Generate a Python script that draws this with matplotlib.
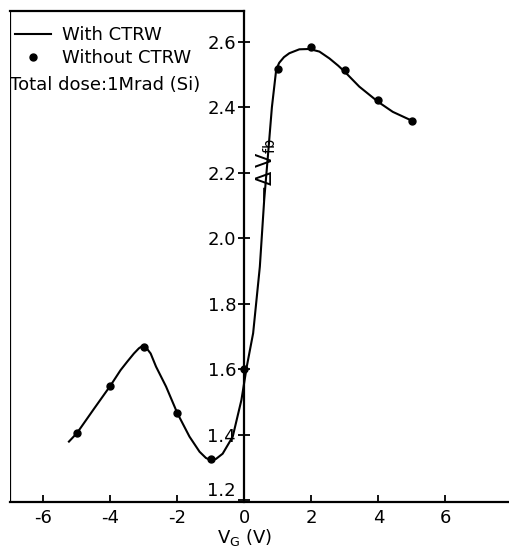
import matplotlib.pyplot as plt
import numpy as np

plt.rcParams['mathtext.default'] = 'regular'
plt.rcParams['axes.unicode_minus'] = False

# measured points (without CTRW)
vg_pts = [-5, -4, -3, -2, -1, 0, 1, 2, 3, 4, 5]
dvfb_pts = [1.406, 1.550, 1.669, 1.465, 1.325, 1.600, 2.516, 2.583, 2.514, 2.422, 2.359]

# curve (with CTRW)
vg_curve = [-5.24, -5.0, -4.5, -4.0, -3.7, -3.5, -3.3, -3.15, -3.05, -2.95, -2.8,
            -2.64, -2.34, -2.0, -1.64, -1.34, -1.15, -1.0, -0.85, -0.65, -0.35,
            -0.09, 0.07, 0.26, 0.46, 0.59, 0.7, 0.82, 0.95, 1.04, 1.18, 1.34,
            1.64, 1.94, 2.24, 2.54, 2.8, 3.0, 3.43, 4.0, 4.43, 5.0]
dvfb_curve = [1.379, 1.405, 1.478, 1.55, 1.597, 1.623, 1.648, 1.664, 1.671, 1.668, 1.648,
              1.608, 1.547, 1.465, 1.394, 1.348, 1.329, 1.322, 1.326, 1.342, 1.394,
              1.506, 1.608, 1.71, 1.913, 2.117, 2.25, 2.40, 2.516, 2.536, 2.553, 2.565,
              2.577, 2.578, 2.57, 2.549, 2.527, 2.508, 2.463, 2.416, 2.386, 2.359]

xticks = [-6, -4, -2, 0, 2, 4, 6]
yticks = [1.2, 1.4, 1.6, 1.8, 2.0, 2.2, 2.4, 2.6]

W, H = 509, 552
fig = plt.figure(figsize=(W / 100, H / 100), dpi=100)
ax = fig.add_axes([10 / W, 1 - 502 / H, 499 / W, 491 / H])

x0, x1 = -7.0, 7.9
y0, y1 = 1.1945, 2.694
ax.set_xlim(x0, x1)
ax.set_ylim(y0, y1)

ax.plot(vg_curve, dvfb_curve, color='black', lw=1.5, label='With CTRW')
ax.plot(vg_pts, dvfb_pts, 'o', color='black', ms=5, label='Without CTRW')

# frame: left border, partial top, bottom, y axis through x=0
ax.spines['right'].set_visible(False)
ax.spines['top'].set_bounds(x0, 0)
ax.spines['left'].set_position(('data', 0))
ax.axvline(x0, color='black', lw=1.6)
for s in ['top', 'left', 'bottom']:
    ax.spines[s].set_linewidth(1.6)

ax.set_xticks(xticks)
ax.set_yticks(yticks)
ax.set_yticklabels(['%.1f' % v for v in yticks])
ax.tick_params(axis='x', direction='in', length=5, width=1.3, labelsize=13, pad=5)
ax.tick_params(axis='y', direction='inout', length=8, width=1.3, labelsize=13, pad=2)
ax.get_yticklabels()[0].set_va('bottom')

leg = ax.legend(loc='upper left', bbox_to_anchor=(15 / W, 1 - 26 / H),
                bbox_transform=fig.transFigure, frameon=False, fontsize=13,
                borderpad=0, borderaxespad=0, handlelength=2.0, handletextpad=0.6,
                labelspacing=0.3)
fig.text(10 / W, 1 - 85 / H, 'Total dose:1Mrad (Si)', fontsize=13, va='center', ha='left')

fig.text(266 / W, 1 - 170 / H, r'$-\Delta\,V_{fb}$', fontsize=15, rotation=90,
         ha='center', va='center')
fig.text(245 / W, 1 - 538 / H, r'$V_G$ (V)', fontsize=13, ha='center', va='center')

fig.savefig('out.png', dpi=100)
